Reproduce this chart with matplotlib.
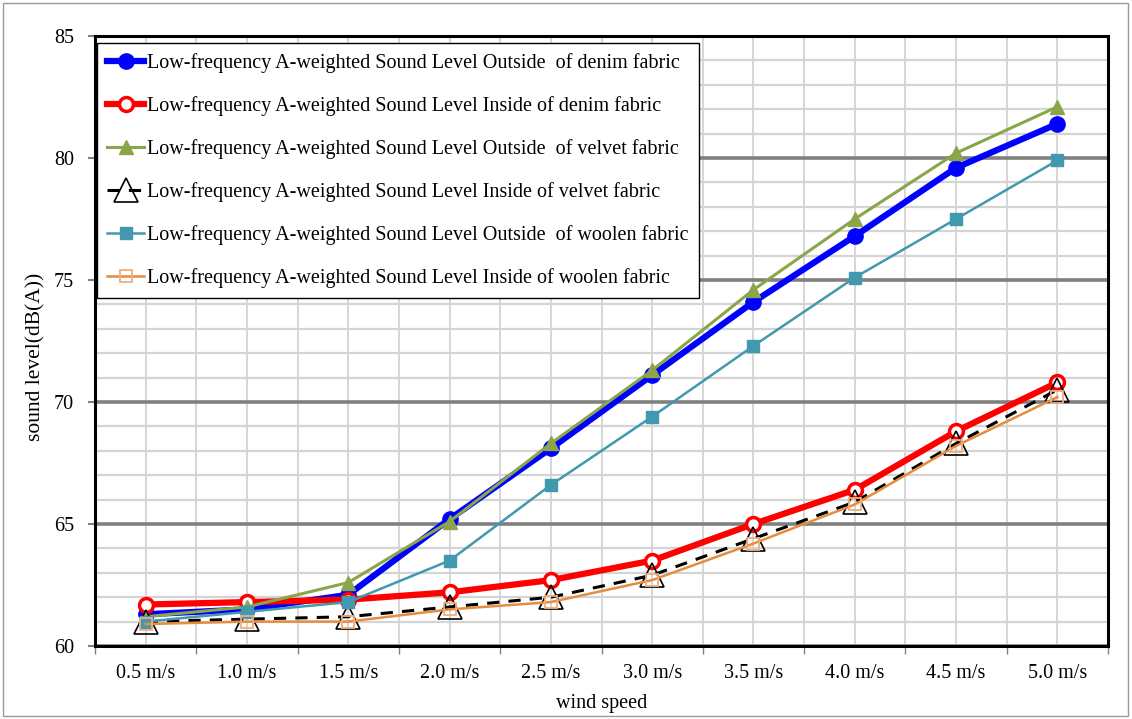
import numpy as np
import matplotlib
matplotlib.use('Agg')
from matplotlib import pyplot as plt
from matplotlib.patches import Rectangle

plt.rcParams['font.family'] = ['Liberation Serif', 'DejaVu Serif']

speeds = ['0.5 m/s', '1.0 m/s', '1.5 m/s', '2.0 m/s', '2.5 m/s',
          '3.0 m/s', '3.5 m/s', '4.0 m/s', '4.5 m/s', '5.0 m/s']

denim_out  = [61.3, 61.5, 62.1, 65.2, 68.1, 71.1, 74.1, 76.8, 79.6, 81.4]
denim_in   = [61.7, 61.8, 61.9, 62.2, 62.7, 63.5, 65.0, 66.4, 68.8, 70.8]
velvet_out = [61.2, 61.6, 62.6, 65.1, 68.3, 71.3, 74.6, 77.5, 80.2, 82.1]
velvet_in  = [61.0, 61.1, 61.2, 61.6, 62.0, 62.9, 64.4, 65.9, 68.3, 70.5]
woolen_out = [61.0, 61.4, 61.8, 63.5, 66.6, 69.4, 72.3, 75.1, 77.5, 79.9]
woolen_in  = [60.9, 61.0, 61.0, 61.5, 61.8, 62.7, 64.2, 65.8, 68.2, 70.2]

names = ['Low-frequency A-weighted Sound Level Outside  of denim fabric',
         'Low-frequency A-weighted Sound Level Inside of denim fabric',
         'Low-frequency A-weighted Sound Level Outside  of velvet fabric',
         'Low-frequency A-weighted Sound Level Inside of velvet fabric',
         'Low-frequency A-weighted Sound Level Outside  of woolen fabric',
         'Low-frequency A-weighted Sound Level Inside of woolen fabric']

fig = plt.figure(figsize=(11.32, 7.19), dpi=100)
ax = fig.add_axes([95/1132, 1-646/719, (1108-95)/1132, (646-36)/719])

x = np.arange(len(speeds))

ax.plot(x, denim_out, color='#0000ff', lw=4.5, marker='o', ms=11,
        label=names[0])
ax.plot(x, denim_in, color='#ff0000', lw=4.5, marker='o', ms=10,
        mfc='white', mec='#ff0000', mew=2.5, label=names[1])
ax.plot(x, velvet_out, color='#8aa54a', lw=2.2, marker='^', ms=10,
        label=names[2])
ax.plot(x, velvet_in, color='black', lw=2.2, ls=(0, (4, 3)), marker='^', ms=17,
        mfc='none', mec='black', mew=1.2, label=names[3])
ax.plot(x, woolen_out, color='#4198af', lw=1.8, marker='s', ms=9,
        label=names[4])
ax.plot(x, woolen_in, color='#e58c3e', lw=1.8, marker='s', ms=9,
        mfc='none', mec='#f0ad7c', mew=1.3, label=names[5])

ax.set_xlim(-0.5, 9.5)
ax.set_ylim(60, 85)

fs = 14.5
ax.set_xticks(x)
ax.set_xticklabels(speeds, fontsize=fs)
ax.set_xticks(np.arange(-0.5, 10, 1), minor=True)
ax.tick_params(axis='x', which='major', length=0, pad=13)
ax.tick_params(axis='x', which='minor', length=6, width=1, color='#808080', direction='out')

ax.set_yticks(np.arange(60, 86, 5))
ax.set_yticks(np.arange(60, 86, 1), minor=True)
ax.tick_params(axis='y', which='major', labelsize=fs, length=5, width=1.5,
               color='#808080', direction='out', pad=10)
ax.tick_params(axis='y', which='minor', length=0)

ax.grid(axis='x', which='both', color='#d0d0d0', lw=1.2)
ax.grid(axis='y', which='minor', color='#d4d4d4', lw=1.6)
ax.grid(axis='y', which='major', color='#808080', lw=2.6)
ax.set_axisbelow(True)

for s in ax.spines.values():
    s.set_linewidth(2.2)
    s.set_color('black')

ax.set_xlabel('wind speed', fontsize=fs, labelpad=8)
ax.set_ylabel('sound level(dB(A))', fontsize=15.5)
ax.yaxis.set_label_coords(-0.049, 0.474)

leg = ax.legend(loc='upper left', bbox_to_anchor=(0.002, 0.989), borderaxespad=0,
                fontsize=fs, frameon=True, fancybox=False, edgecolor='black',
                framealpha=1, handlelength=1.85, handletextpad=0.15,
                labelspacing=1.15, borderpad=0.5)
leg.get_frame().set_linewidth(1.0)

fig.patches.append(Rectangle((3/1132, 3/719), 1125/1132, 713/719, transform=fig.transFigure,
                             fill=False, edgecolor='#9a9a9a', lw=1))

fig.savefig('out.png', dpi=100)
